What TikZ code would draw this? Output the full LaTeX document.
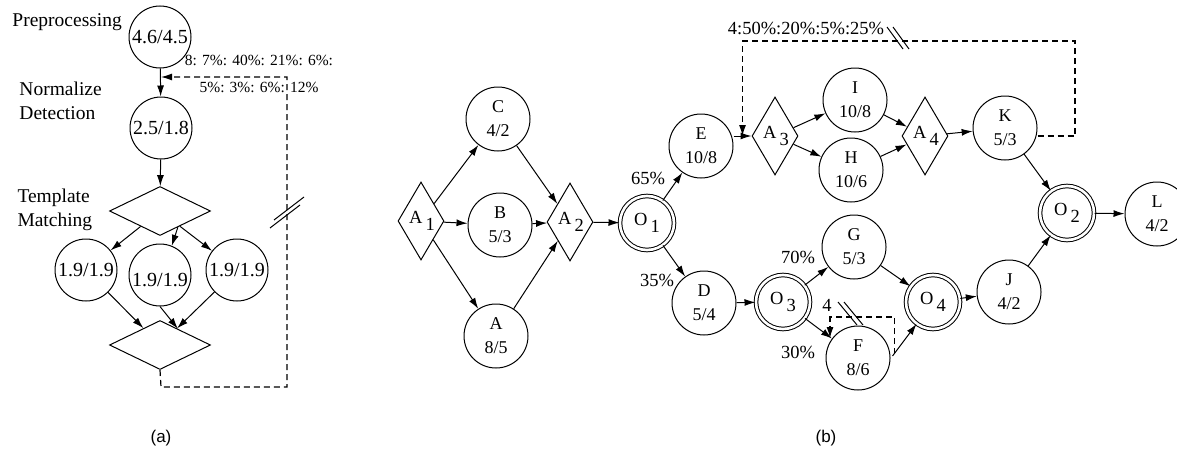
\documentclass[tikz,border=0pt]{standalone}
\usepackage{fontspec}
\setmainfont{Liberation Serif}
\newfontfamily\capfont{Liberation Sans}
\usetikzlibrary{shapes.geometric,arrows.meta,calc}
\newcommand\lowsub[1]{\,\raisebox{-7pt}{#1}}
\begin{document}
\begin{tikzpicture}[x=1pt,y=-1pt,line width=1pt,
 >={Latex[length=11pt,width=7pt]},
 circ/.style={circle,draw,minimum size=64pt,inner sep=0pt,align=center,font=\fontsize{18}{24}\selectfont},
 acirc/.style={circle,draw,minimum size=62pt,inner sep=0pt,font=\fontsize{20}{24}\selectfont},
 atxt/.style={inner sep=0pt,font=\fontsize{20}{24}\selectfont},
 dbl/.style={circle,draw,double,double distance=2.6pt,minimum size=54pt,inner sep=0pt,font=\fontsize{18.5}{22}\selectfont},
 bdia/.style={diamond,draw,minimum width=46pt,minimum height=78pt,inner sep=0pt},
 adia/.style={diamond,draw,minimum width=101pt,minimum height=49pt,inner sep=0pt},
 lbl/.style={font=\fontsize{18.5}{22}\selectfont,inner sep=0pt},
 albl/.style={font=\fontsize{19.5}{24}\selectfont,align=left,inner sep=0pt,anchor=west},
 loopline/.style={line width=1.2pt,dash pattern=on 6pt off 4pt},
 captxt/.style={font=\capfont\fontsize{17}{20}\selectfont,inner sep=0pt}
]
\useasboundingbox (0,0) rectangle (1177,455);

% ---------------- (a) ----------------
\node[acirc] (P1) at (160,37) {4.6/4.5};
\node[acirc] (P2) at (161,128) {2.5/1.8};
\node[adia] (D1) at (160,211) {};
\node[acirc] (T1) at (86,270) {1.9/1.9};
\node[acirc] (T2) at (160,275) {};
\node[atxt] (T2t) at (160,280) {1.9/1.9};
\node[acirc] (T3) at (237,270) {1.9/1.9};
\node[adia] (D2) at (160,345) {};
\node[albl] (Lpre) at (12,22) {Preprocessing};
\node[albl] (Lnorm) at (19,101) {Normalize\\Detection};
\node[albl] (Ltemp) at (17,210) {Template\\Matching};
\node[font=\fontsize{15.5}{27}\selectfont,align=center,inner sep=0pt] (Lloop) at (259,74) {8: 7\%: 40\%: 21\%: 6\%:\\5\%: 3\%: 6\%: 12\%};
\coordinate (m0) at (161,77);

\draw[->] (P1) -- (P2);
\draw[->] (P2) -- (D1);
\draw[->] (D1) -- (T1);
\draw[->] ($(D1.south)!0.35!(D1.east)$) -- (T2.68);
\draw[->] (D1) -- (T3);
\draw[->] (T1) -- (D2);
\draw[->] (T2.south) -- ($(D2.north)!0.35!(D2.east)$);
\draw[->] (T3) -- (D2);
\draw[loopline,->] (D2.south) -- (161,387) -| (287,77) -- (m0);
\draw (270,228) -- (300,205);
\draw (274,220) -- (304,197);

% ---------------- (b) ----------------
\node[bdia] (A1) at (421,221) {};
\node[lbl] (A1t) at (422,221) {A\lowsub{1}};
\node[circ] (C) at (498,119) {C\\4/2};
\node[circ] (B) at (500,225) {B\\5/3};
\node[circ] (A) at (496,336) {A\\8/5};
\node[bdia] (A2) at (570,222) {};
\node[lbl] (A2t) at (571,222) {A\lowsub{2}};
\node[dbl] (O1) at (647,223) {O\lowsub{1}};
\node[circ] (E) at (701,146) {E\\10/8};
\node[circ] (D) at (704,303) {D\\5/4};
\node[dbl] (O3) at (783,302) {O\lowsub{3}};
\node[bdia] (A3) at (775,136) {};
\node[lbl] (A3t) at (776,136) {A\lowsub{3}};
\node[circ] (I) at (855,100) {I\\10/8};
\node[circ] (H) at (851,170) {H\\10/6};
\node[bdia] (A4) at (925,136) {};
\node[lbl] (A4t) at (926,136) {A\lowsub{4}};
\node[circ] (K) at (1005,128) {K\\5/3};
\node[dbl] (O2) at (1067,213) {O\lowsub{2}};
\node[circ] (L) at (1157,214) {L\\4/2};
\node[circ] (G) at (854,247) {G\\5/3};
\node[circ] (F) at (858,358) {F\\8/6};
\node[dbl] (O4) at (933,302) {O\lowsub{4}};
\node[circ] (J) at (1009,292) {J\\4/2};

\node[lbl] (p65) at (648,178) {65\%};
\node[lbl] (p35) at (657,280) {35\%};
\node[lbl] (p70) at (798,257) {70\%};
\node[lbl] (p30) at (798,352) {30\%};
\node[lbl] (n4) at (827,305) {4};
\node[lbl] (topl) at (806,28) {4:50\%:20\%:5\%:25\%};
\node[captxt] (capa) at (161,438) {(a)};
\node[captxt] (capb) at (826,438) {(b)};

\draw[->] (A1) -- (C);
\draw[->] (A1) -- (B);
\draw[->] (A1) -- (A);
\draw[->] (C) -- (A2);
\draw[->] (B) -- (A2);
\draw[->] (A) -- (A2);
\draw[->] (A2) -- (O1);
\draw[->] (O1) -- (E);
\draw[->] (O1) -- (D);
\draw[->] (D) -- (O3);
\draw[->] (E.east |- A3.west) -- (A3.west);
\draw[->] (A3) -- (I);
\draw[->] (A3) -- (H);
\draw[->] (I) -- (A4);
\draw[->] (H) -- (A4);
\draw[->] (A4) -- (K);
\draw[->] (K) -- (O2);
\draw[->] (O2) -- (L);
\draw[->] (O3) -- (G);
\draw[->] (O3) -- (F);
\draw[->] (G) -- (O4);
\draw[->] ($(F.east)+(2,-2)$) -- (O4);
\draw[->] (O4) -- (J);
\draw[->] (J) -- (O2);

\coordinate (m1) at ($(E.east |- A3.west)!0.5!(A3.west)$);
\draw[loopline,->] ($(K.east)+(0,8)$) -| (1075,41) -| (m1);
\draw (887,27) -- (903,49);
\draw (893,27) -- (909,49);

\coordinate (m2) at (830,338);
\draw[loopline,->] ($(F.east)+(4,-4)$) |- (830,317) -- (m2);
\draw (838,302) -- (857,325);
\draw (844,302) -- (863,325);
\end{tikzpicture}
\end{document}
